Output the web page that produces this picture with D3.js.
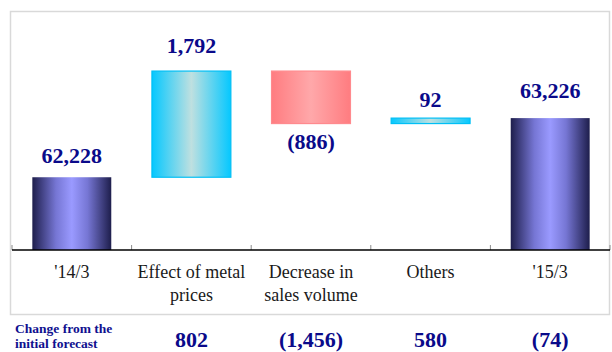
<!DOCTYPE html>
<html>
<head>
<meta charset="utf-8">
<script src="https://cdn.jsdelivr.net/npm/d3@7"></script>
<style>
  html, body { margin: 0; padding: 0; background: #fff; }
  svg { display: block; }
  text { font-family: "Liberation Serif", "Times New Roman", serif; }
</style>
</head>
<body>
<svg id="chart" width="612" height="352"></svg>
<script>
// Net sales bridge, '14/3 -> '15/3
const categories = ["'14/3", "Effect of metal\nprices", "Decrease in\nsales volume", "Others", "'15/3"];
const kinds = ["total", "delta", "delta", "delta", "total"];
const values = [62228, 1792, -886, 92, 63226];
const forecastChange = [null, 802, -1456, 580, -74];
const forecastLabel = ["Change from the", "initial forecast"];
const yDomain = [61000, 65000];

const svg = d3.select("#chart");
const plot = { left: 12, right: 610, top: 13, bottom: 250 };

const x = d3.scaleBand().domain(categories).range([plot.left, plot.right]).paddingInner(0).paddingOuter(0);
const y = d3.scaleLinear().domain(yDomain).range([plot.bottom, plot.top]);

// running totals for the floating bars
let running = 0;
const bars = categories.map((c, i) => {
  let lo, hi;
  if (kinds[i] === "total") {
    lo = yDomain[0]; hi = values[i]; running = values[i];
  } else {
    const start = running, end = running + values[i];
    lo = Math.min(start, end); hi = Math.max(start, end); running = end;
  }
  return { cat: c, kind: kinds[i], value: values[i], lo, hi, i };
});

// gradients
const defs = svg.append("defs");
function hGrad(id, stops) {
  const g = defs.append("linearGradient").attr("id", id)
    .attr("x1", "0%").attr("x2", "100%").attr("y1", "0%").attr("y2", "0%");
  stops.forEach(([o, c]) => g.append("stop").attr("offset", o).attr("stop-color", c));
}
hGrad("gTotal", [[0, "#1e1e4c"], [0.3, "#7676d4"], [0.5, "#9a9aff"], [0.7, "#7676d4"], [1, "#1e1e4c"]]);
hGrad("gUp", [[0, "#05c8ff"], [0.5, "#bfe0e0"], [1, "#05c8ff"]]);
hGrad("gDown", [[0, "#ff7c80"], [0.5, "#ffa8aa"], [1, "#ff7c80"]]);

// frame
svg.append("rect")
  .attr("x", 10.5).attr("y", 11.5).attr("width", 599).attr("height", 303)
  .attr("fill", "none").attr("stroke", "#d9d9d9").attr("stroke-width", 1.5);

// bars
const barW = x.bandwidth() * 0.66;
function fillFor(d) {
  if (d.kind === "total") return "url(#gTotal)";
  return d.value >= 0 ? "url(#gUp)" : "url(#gDown)";
}
function strokeFor(d) {
  if (d.kind === "total") return "none";
  return d.value >= 0 ? "#00bff5" : "#ff8a8e";
}
svg.append("g").selectAll("rect").data(bars).join("rect")
  .attr("x", d => x(d.cat) + (x.bandwidth() - barW) / 2)
  .attr("y", d => y(d.hi))
  .attr("width", barW)
  .attr("height", d => y(d.lo) - y(d.hi))
  .attr("fill", fillFor)
  .attr("stroke", strokeFor)
  .attr("stroke-width", 1.2);

// category axis: baseline, boundary ticks, wrapped labels
const axis = d3.axisBottom(x).tickSize(0).tickPadding(0);
const axisG = svg.append("g").attr("transform", `translate(0,${plot.bottom})`).call(axis);
axisG.select(".domain").remove();
axisG.selectAll(".tick text").remove();

const bounds = categories.map(c => x(c)).concat([plot.right]);
svg.append("g").selectAll("line").data(bounds).join("line")
  .attr("x1", d => d).attr("x2", d => d)
  .attr("y1", plot.bottom - 5).attr("y2", plot.bottom)
  .attr("stroke", "#8c8c8c").attr("stroke-width", 1);

svg.append("line")
  .attr("x1", plot.left).attr("x2", plot.right)
  .attr("y1", plot.bottom).attr("y2", plot.bottom)
  .attr("stroke", "#000").attr("stroke-width", 1.5);

axisG.selectAll(".tick").each(function(c) {
  const t = d3.select(this).append("text")
    .attr("text-anchor", "middle")
    .attr("fill", "#1a1a1a")
    .attr("font-size", 18)
    .attr("y", 28);
  c.split("\n").forEach((line, k) => {
    t.append("tspan").attr("x", 0).attr("dy", k === 0 ? 0 : 23).text(line);
  });
});

// value labels
const fmt = v => (v < 0 ? `(${d3.format(",")(-v)})` : d3.format(",")(v));
const labelGap = [14, 18, -25, 11, 20];
svg.append("g").selectAll("text").data(bars).join("text")
  .attr("x", d => x(d.cat) + x.bandwidth() / 2)
  .attr("y", d => d.kind === "delta" && d.value < 0 ? y(d.lo) - labelGap[d.i] : y(d.hi) - labelGap[d.i])
  .attr("text-anchor", "middle")
  .attr("font-size", 22).attr("font-weight", "bold")
  .attr("fill", "#0a0a8a")
  .text(d => fmt(d.value));

// change from the initial forecast row
const fc = svg.append("g");
forecastLabel.forEach((line, k) => {
  fc.append("text")
    .attr("x", 15).attr("y", 333 + k * 15)
    .attr("font-size", 13.5).attr("font-weight", "bold").attr("fill", "#10108f")
    .text(line);
});
fc.selectAll("text.fcv").data(categories.map((c, i) => ({ c, v: forecastChange[i] })).filter(d => d.v !== null))
  .join("text").attr("class", "fcv")
  .attr("x", d => x(d.c) + x.bandwidth() / 2)
  .attr("y", 346.5)
  .attr("text-anchor", "middle")
  .attr("font-size", 22).attr("font-weight", "bold")
  .attr("fill", "#0a0a8a")
  .text(d => fmt(d.v));
</script>
</body>
</html>
